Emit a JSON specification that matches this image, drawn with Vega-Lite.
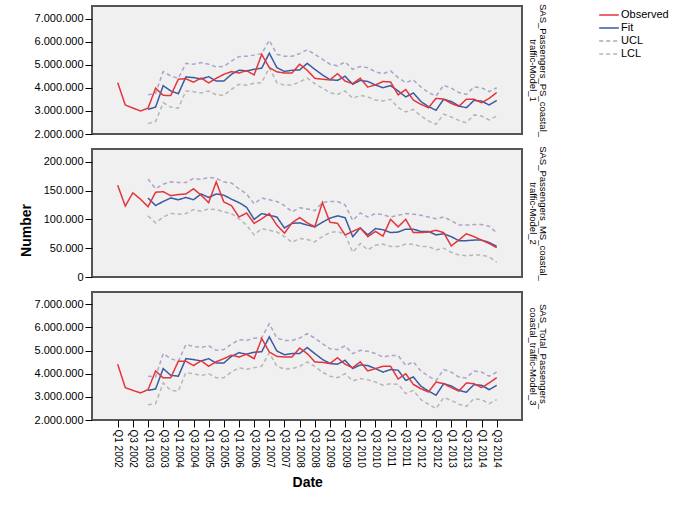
{
"$schema": "https://vega.github.io/schema/vega-lite/v6.json",
"padding": {"left": 18, "top": 2, "right": 0, "bottom": 0},
"bounds": "flush",
"spacing": 15,
"config": {
  "locale": {"number": {"decimal": ",", "thousands": ".", "grouping": [3], "currency": ["", ""]}},
  "font": "Liberation Sans",
  "view": {"fill": "#f0f0f0", "stroke": "#555555", "strokeWidth": 2},
  "axis": {"grid": false, "domain": false, "tickColor": "#000000", "labelColor": "#000000", "titleColor": "#000000", "labelFont": "Liberation Sans", "titleFont": "Liberation Sans"},
  "legend": {"orient": "none", "legendX": 509, "legendY": 1, "symbolType": "M-1.4,0H1.4", "symbolSize": 196, "symbolStrokeWidth": 1.5, "labelFontSize": 11, "labelColor": "#000000", "labelOffset": 4, "rowPadding": -1, "title": null}
},
"data": {"values": [
{"m":1,"d":"Q1 2002","Observed":4230000},
{"m":1,"d":"Q2 2002","Observed":3260000},
{"m":1,"d":"Q3 2002","Observed":3130000},
{"m":1,"d":"Q4 2002","Observed":3000000},
{"m":1,"d":"Q1 2003","Observed":3120000,"Fit":3070000,"UCL":3700000,"LCL":2450000},
{"m":1,"d":"Q2 2003","Observed":3990000,"Fit":3170000,"UCL":3770000,"LCL":2540000},
{"m":1,"d":"Q3 2003","Observed":3680000,"Fit":4100000,"UCL":4710000,"LCL":3360000},
{"m":1,"d":"Q4 2003","Observed":3670000,"Fit":3870000,"UCL":4520000,"LCL":3170000},
{"m":1,"d":"Q1 2004","Observed":4380000,"Fit":3750000,"UCL":4420000,"LCL":3120000},
{"m":1,"d":"Q2 2004","Observed":4400000,"Fit":4480000,"UCL":5070000,"LCL":3870000},
{"m":1,"d":"Q3 2004","Observed":4250000,"Fit":4450000,"UCL":5030000,"LCL":3840000},
{"m":1,"d":"Q4 2004","Observed":4430000,"Fit":4390000,"UCL":5100000,"LCL":3780000},
{"m":1,"d":"Q1 2005","Observed":4220000,"Fit":4490000,"UCL":5030000,"LCL":3870000},
{"m":1,"d":"Q2 2005","Observed":4420000,"Fit":4300000,"UCL":4910000,"LCL":3700000},
{"m":1,"d":"Q3 2005","Observed":4590000,"Fit":4300000,"UCL":4930000,"LCL":3680000},
{"m":1,"d":"Q4 2005","Observed":4710000,"Fit":4590000,"UCL":5170000,"LCL":3940000},
{"m":1,"d":"Q1 2006","Observed":4650000,"Fit":4770000,"UCL":5360000,"LCL":4160000},
{"m":1,"d":"Q2 2006","Observed":4750000,"Fit":4740000,"UCL":5380000,"LCL":4120000},
{"m":1,"d":"Q3 2006","Observed":4570000,"Fit":4810000,"UCL":5430000,"LCL":4200000},
{"m":1,"d":"Q4 2006","Observed":5460000,"Fit":4860000,"UCL":5490000,"LCL":4230000},
{"m":1,"d":"Q1 2007","Observed":4880000,"Fit":5510000,"UCL":6070000,"LCL":4880000},
{"m":1,"d":"Q2 2007","Observed":4700000,"Fit":4880000,"UCL":5460000,"LCL":4230000},
{"m":1,"d":"Q3 2007","Observed":4650000,"Fit":4720000,"UCL":5380000,"LCL":4120000},
{"m":1,"d":"Q4 2007","Observed":4650000,"Fit":4770000,"UCL":5380000,"LCL":4130000},
{"m":1,"d":"Q1 2008","Observed":5030000,"Fit":4780000,"UCL":5490000,"LCL":4260000},
{"m":1,"d":"Q2 2008","Observed":4770000,"Fit":5070000,"UCL":5660000,"LCL":4430000},
{"m":1,"d":"Q3 2008","Observed":4420000,"Fit":4810000,"UCL":5460000,"LCL":4190000},
{"m":1,"d":"Q4 2008","Observed":4380000,"Fit":4570000,"UCL":5250000,"LCL":3990000},
{"m":1,"d":"Q1 2009","Observed":4350000,"Fit":4360000,"UCL":5030000,"LCL":3800000},
{"m":1,"d":"Q2 2009","Observed":4620000,"Fit":4330000,"UCL":4960000,"LCL":3720000},
{"m":1,"d":"Q3 2009","Observed":4300000,"Fit":4510000,"UCL":5130000,"LCL":3870000},
{"m":1,"d":"Q4 2009","Observed":4190000,"Fit":4160000,"UCL":4810000,"LCL":3550000},
{"m":1,"d":"Q1 2010","Observed":4420000,"Fit":4330000,"UCL":4930000,"LCL":3680000},
{"m":1,"d":"Q2 2010","Observed":4040000,"Fit":4280000,"UCL":4880000,"LCL":3610000},
{"m":1,"d":"Q3 2010","Observed":4130000,"Fit":4130000,"UCL":4700000,"LCL":3480000},
{"m":1,"d":"Q4 2010","Observed":4280000,"Fit":4010000,"UCL":4620000,"LCL":3430000},
{"m":1,"d":"Q1 2011","Observed":4260000,"Fit":4100000,"UCL":4740000,"LCL":3510000},
{"m":1,"d":"Q2 2011","Observed":3700000,"Fit":3870000,"UCL":4450000,"LCL":3140000},
{"m":1,"d":"Q3 2011","Observed":3930000,"Fit":3610000,"UCL":4230000,"LCL":2960000},
{"m":1,"d":"Q4 2011","Observed":3480000,"Fit":3780000,"UCL":4350000,"LCL":3070000},
{"m":1,"d":"Q1 2012","Observed":3290000,"Fit":3410000,"UCL":4040000,"LCL":2780000},
{"m":1,"d":"Q2 2012","Observed":3140000,"Fit":3190000,"UCL":3800000,"LCL":2570000},
{"m":1,"d":"Q3 2012","Observed":3550000,"Fit":3030000,"UCL":3650000,"LCL":2420000},
{"m":1,"d":"Q4 2012","Observed":3510000,"Fit":3510000,"UCL":4120000,"LCL":2860000},
{"m":1,"d":"Q1 2013","Observed":3330000,"Fit":3410000,"UCL":3990000,"LCL":2740000},
{"m":1,"d":"Q2 2013","Observed":3200000,"Fit":3220000,"UCL":3800000,"LCL":2590000},
{"m":1,"d":"Q3 2013","Observed":3510000,"Fit":3140000,"UCL":3720000,"LCL":2490000},
{"m":1,"d":"Q4 2013","Observed":3510000,"Fit":3460000,"UCL":4040000,"LCL":2830000},
{"m":1,"d":"Q1 2014","Observed":3360000,"Fit":3430000,"UCL":4010000,"LCL":2780000},
{"m":1,"d":"Q2 2014","Observed":3550000,"Fit":3260000,"UCL":3840000,"LCL":2610000},
{"m":1,"d":"Q3 2014","Observed":3800000,"Fit":3460000,"UCL":4010000,"LCL":2780000},
{"m":2,"d":"Q1 2002","Observed":159000},
{"m":2,"d":"Q2 2002","Observed":123000},
{"m":2,"d":"Q3 2002","Observed":146000},
{"m":2,"d":"Q4 2002","Observed":135000},
{"m":2,"d":"Q1 2003","Observed":122000,"Fit":137000,"UCL":170000,"LCL":106000},
{"m":2,"d":"Q2 2003","Observed":147000,"Fit":124000,"UCL":153000,"LCL":94000},
{"m":2,"d":"Q3 2003","Observed":148000,"Fit":131000,"UCL":161000,"LCL":104000},
{"m":2,"d":"Q4 2003","Observed":141000,"Fit":137000,"UCL":165000,"LCL":110000},
{"m":2,"d":"Q1 2004","Observed":143000,"Fit":134000,"UCL":164000,"LCL":109000},
{"m":2,"d":"Q2 2004","Observed":144000,"Fit":138000,"UCL":164000,"LCL":110000},
{"m":2,"d":"Q3 2004","Observed":153000,"Fit":134000,"UCL":171000,"LCL":117000},
{"m":2,"d":"Q4 2004","Observed":142000,"Fit":144000,"UCL":169000,"LCL":114000},
{"m":2,"d":"Q1 2005","Observed":129000,"Fit":138000,"UCL":173000,"LCL":118000},
{"m":2,"d":"Q2 2005","Observed":165000,"Fit":144000,"UCL":171000,"LCL":117000},
{"m":2,"d":"Q3 2005","Observed":130000,"Fit":142000,"UCL":165000,"LCL":113000},
{"m":2,"d":"Q4 2005","Observed":124000,"Fit":135000,"UCL":163000,"LCL":110000},
{"m":2,"d":"Q1 2006","Observed":104000,"Fit":129000,"UCL":153000,"LCL":101000},
{"m":2,"d":"Q2 2006","Observed":111000,"Fit":121000,"UCL":144000,"LCL":90000},
{"m":2,"d":"Q3 2006","Observed":93000,"Fit":100000,"UCL":127000,"LCL":73000},
{"m":2,"d":"Q4 2006","Observed":101000,"Fit":110000,"UCL":137000,"LCL":84000},
{"m":2,"d":"Q1 2007","Observed":110000,"Fit":107000,"UCL":134000,"LCL":81000},
{"m":2,"d":"Q2 2007","Observed":90000,"Fit":104000,"UCL":131000,"LCL":78000},
{"m":2,"d":"Q3 2007","Observed":76000,"Fit":85000,"UCL":124000,"LCL":70000},
{"m":2,"d":"Q4 2007","Observed":94000,"Fit":93000,"UCL":113000,"LCL":60000},
{"m":2,"d":"Q1 2008","Observed":103000,"Fit":94000,"UCL":120000,"LCL":67000},
{"m":2,"d":"Q2 2008","Observed":94000,"Fit":90000,"UCL":118000,"LCL":65000},
{"m":2,"d":"Q3 2008","Observed":87000,"Fit":87000,"UCL":115000,"LCL":61000},
{"m":2,"d":"Q4 2008","Observed":129000,"Fit":95000,"UCL":129000,"LCL":70000},
{"m":2,"d":"Q1 2009","Observed":95000,"Fit":102000,"UCL":131000,"LCL":77000},
{"m":2,"d":"Q2 2009","Observed":93000,"Fit":106000,"UCL":131000,"LCL":79000},
{"m":2,"d":"Q3 2009","Observed":73000,"Fit":103000,"UCL":125000,"LCL":74000},
{"m":2,"d":"Q4 2009","Observed":79000,"Fit":70000,"UCL":98000,"LCL":43000},
{"m":2,"d":"Q1 2010","Observed":85000,"Fit":85000,"UCL":111000,"LCL":58000},
{"m":2,"d":"Q2 2010","Observed":70000,"Fit":73000,"UCL":104000,"LCL":47000},
{"m":2,"d":"Q3 2010","Observed":79000,"Fit":84000,"UCL":110000,"LCL":55000},
{"m":2,"d":"Q4 2010","Observed":71000,"Fit":82000,"UCL":108000,"LCL":57000},
{"m":2,"d":"Q1 2011","Observed":100000,"Fit":77000,"UCL":104000,"LCL":53000},
{"m":2,"d":"Q2 2011","Observed":87000,"Fit":78000,"UCL":107000,"LCL":53000},
{"m":2,"d":"Q3 2011","Observed":100000,"Fit":83000,"UCL":110000,"LCL":57000},
{"m":2,"d":"Q4 2011","Observed":77000,"Fit":83000,"UCL":109000,"LCL":57000},
{"m":2,"d":"Q1 2012","Observed":77000,"Fit":79000,"UCL":107000,"LCL":53000},
{"m":2,"d":"Q2 2012","Observed":78000,"Fit":79000,"UCL":104000,"LCL":53000},
{"m":2,"d":"Q3 2012","Observed":81000,"Fit":73000,"UCL":101000,"LCL":47000},
{"m":2,"d":"Q4 2012","Observed":77000,"Fit":75000,"UCL":104000,"LCL":50000},
{"m":2,"d":"Q1 2013","Observed":54000,"Fit":70000,"UCL":98000,"LCL":43000},
{"m":2,"d":"Q2 2013","Observed":64000,"Fit":63000,"UCL":90000,"LCL":38000},
{"m":2,"d":"Q3 2013","Observed":75000,"Fit":63000,"UCL":90000,"LCL":37000},
{"m":2,"d":"Q4 2013","Observed":70000,"Fit":64000,"UCL":91000,"LCL":38000},
{"m":2,"d":"Q1 2014","Observed":64000,"Fit":64000,"UCL":91000,"LCL":38000},
{"m":2,"d":"Q2 2014","Observed":58000,"Fit":60000,"UCL":88000,"LCL":35000},
{"m":2,"d":"Q3 2014","Observed":51000,"Fit":53000,"UCL":77000,"LCL":26000},
{"m":3,"d":"Q1 2002","Observed":4410000},
{"m":3,"d":"Q2 2002","Observed":3400000},
{"m":3,"d":"Q3 2002","Observed":3280000},
{"m":3,"d":"Q4 2002","Observed":3170000},
{"m":3,"d":"Q1 2003","Observed":3310000,"Fit":3280000,"UCL":3890000,"LCL":2660000},
{"m":3,"d":"Q2 2003","Observed":4120000,"Fit":3340000,"UCL":3860000,"LCL":2710000},
{"m":3,"d":"Q3 2003","Observed":3820000,"Fit":4220000,"UCL":4870000,"LCL":3600000},
{"m":3,"d":"Q4 2003","Observed":3830000,"Fit":3930000,"UCL":4650000,"LCL":3280000},
{"m":3,"d":"Q1 2004","Observed":4540000,"Fit":3890000,"UCL":4540000,"LCL":3250000},
{"m":3,"d":"Q2 2004","Observed":4540000,"Fit":4650000,"UCL":5260000,"LCL":4050000},
{"m":3,"d":"Q3 2004","Observed":4350000,"Fit":4610000,"UCL":5180000,"LCL":4000000},
{"m":3,"d":"Q4 2004","Observed":4560000,"Fit":4550000,"UCL":5130000,"LCL":3920000},
{"m":3,"d":"Q1 2005","Observed":4320000,"Fit":4650000,"UCL":5210000,"LCL":4000000},
{"m":3,"d":"Q2 2005","Observed":4520000,"Fit":4460000,"UCL":5010000,"LCL":3830000},
{"m":3,"d":"Q3 2005","Observed":4650000,"Fit":4460000,"UCL":5040000,"LCL":3830000},
{"m":3,"d":"Q4 2005","Observed":4800000,"Fit":4750000,"UCL":5270000,"LCL":4070000},
{"m":3,"d":"Q1 2006","Observed":4720000,"Fit":4910000,"UCL":5470000,"LCL":4260000},
{"m":3,"d":"Q2 2006","Observed":4840000,"Fit":4840000,"UCL":5440000,"LCL":4190000},
{"m":3,"d":"Q3 2006","Observed":4650000,"Fit":4930000,"UCL":5530000,"LCL":4260000},
{"m":3,"d":"Q4 2006","Observed":5520000,"Fit":4950000,"UCL":5560000,"LCL":4320000},
{"m":3,"d":"Q1 2007","Observed":4940000,"Fit":5590000,"UCL":6160000,"LCL":4900000},
{"m":3,"d":"Q2 2007","Observed":4750000,"Fit":4980000,"UCL":5540000,"LCL":4320000},
{"m":3,"d":"Q3 2007","Observed":4720000,"Fit":4820000,"UCL":5440000,"LCL":4200000},
{"m":3,"d":"Q4 2007","Observed":4720000,"Fit":4870000,"UCL":5440000,"LCL":4220000},
{"m":3,"d":"Q1 2008","Observed":5110000,"Fit":4870000,"UCL":5540000,"LCL":4320000},
{"m":3,"d":"Q2 2008","Observed":4870000,"Fit":5130000,"UCL":5730000,"LCL":4510000},
{"m":3,"d":"Q3 2008","Observed":4510000,"Fit":4870000,"UCL":5540000,"LCL":4320000},
{"m":3,"d":"Q4 2008","Observed":4490000,"Fit":4620000,"UCL":5300000,"LCL":4070000},
{"m":3,"d":"Q1 2009","Observed":4440000,"Fit":4440000,"UCL":5080000,"LCL":3890000},
{"m":3,"d":"Q2 2009","Observed":4690000,"Fit":4410000,"UCL":5040000,"LCL":3830000},
{"m":3,"d":"Q3 2009","Observed":4410000,"Fit":4580000,"UCL":5200000,"LCL":4000000},
{"m":3,"d":"Q4 2009","Observed":4260000,"Fit":4220000,"UCL":4870000,"LCL":3690000},
{"m":3,"d":"Q1 2010","Observed":4510000,"Fit":4380000,"UCL":5010000,"LCL":3790000},
{"m":3,"d":"Q2 2010","Observed":4120000,"Fit":4350000,"UCL":4970000,"LCL":3740000},
{"m":3,"d":"Q3 2010","Observed":4220000,"Fit":4220000,"UCL":4870000,"LCL":3640000},
{"m":3,"d":"Q4 2010","Observed":4320000,"Fit":4070000,"UCL":4720000,"LCL":3500000},
{"m":3,"d":"Q1 2011","Observed":4320000,"Fit":4180000,"UCL":4790000,"LCL":3570000},
{"m":3,"d":"Q2 2011","Observed":3770000,"Fit":4150000,"UCL":4780000,"LCL":3540000},
{"m":3,"d":"Q3 2011","Observed":4000000,"Fit":3710000,"UCL":4360000,"LCL":3140000},
{"m":3,"d":"Q4 2011","Observed":3540000,"Fit":3860000,"UCL":4510000,"LCL":3280000},
{"m":3,"d":"Q1 2012","Observed":3350000,"Fit":3460000,"UCL":4120000,"LCL":2880000},
{"m":3,"d":"Q2 2012","Observed":3210000,"Fit":3250000,"UCL":3890000,"LCL":2680000},
{"m":3,"d":"Q3 2012","Observed":3640000,"Fit":3070000,"UCL":3710000,"LCL":2490000},
{"m":3,"d":"Q4 2012","Observed":3570000,"Fit":3570000,"UCL":4180000,"LCL":2970000},
{"m":3,"d":"Q1 2013","Observed":3400000,"Fit":3470000,"UCL":4070000,"LCL":2850000},
{"m":3,"d":"Q2 2013","Observed":3250000,"Fit":3280000,"UCL":3860000,"LCL":2680000},
{"m":3,"d":"Q3 2013","Observed":3600000,"Fit":3200000,"UCL":3820000,"LCL":2590000},
{"m":3,"d":"Q4 2013","Observed":3570000,"Fit":3530000,"UCL":4120000,"LCL":2920000},
{"m":3,"d":"Q1 2014","Observed":3400000,"Fit":3500000,"UCL":4070000,"LCL":2880000},
{"m":3,"d":"Q2 2014","Observed":3600000,"Fit":3310000,"UCL":3890000,"LCL":2710000},
{"m":3,"d":"Q3 2014","Observed":3830000,"Fit":3500000,"UCL":4070000,"LCL":2880000}
]},
"transform": [{"fold": ["Observed", "Fit", "UCL", "LCL"], "as": ["series", "value"]}, {"filter": "isValid(datum.value)"}],
"vconcat": [
{
  "width": 430, "height": 128,
  "transform": [{"filter": "datum.m == 1"}],
  "encoding": {
    "x": {"field": "d", "type": "ordinal", "scale": {"type": "point", "padding": 0, "range": [25.7, 404.7], "domain": ["Q1 2002","Q2 2002","Q3 2002","Q4 2002","Q1 2003","Q2 2003","Q3 2003","Q4 2003","Q1 2004","Q2 2004","Q3 2004","Q4 2004","Q1 2005","Q2 2005","Q3 2005","Q4 2005","Q1 2006","Q2 2006","Q3 2006","Q4 2006","Q1 2007","Q2 2007","Q3 2007","Q4 2007","Q1 2008","Q2 2008","Q3 2008","Q4 2008","Q1 2009","Q2 2009","Q3 2009","Q4 2009","Q1 2010","Q2 2010","Q3 2010","Q4 2010","Q1 2011","Q2 2011","Q3 2011","Q4 2011","Q1 2012","Q2 2012","Q3 2012","Q4 2012","Q1 2013","Q2 2013","Q3 2013","Q4 2013","Q1 2014","Q2 2014","Q3 2014"]}, "axis": null},
    "color": {"field": "series", "type": "nominal", "scale": {"domain": ["Observed", "Fit", "UCL", "LCL"], "range": ["#e4343c", "#3b5aa3", "#aca4c6", "#b6b6b8"]}, "legend": {"title": null}},
    "strokeDash": {"field": "series", "type": "nominal", "scale": {"domain": ["Observed", "Fit", "UCL", "LCL"], "range": [[1, 0], [1, 0], [4, 3], [4, 3]]}, "legend": {"title": null}}
  },
  "layer": [
    {"transform": [{"filter": "datum.series != 'Observed'"}], "mark": {"type": "line", "strokeWidth": 1.5},
     "encoding": {"y": {"field": "value", "type": "quantitative", "scale": {"domain": [2000000, 7560000], "nice": false, "zero": false},
       "axis": {"orient": "left", "values": [2000000, 3000000, 4000000, 5000000, 6000000, 7000000], "format": ",d", "title": null, "labelFontSize": 11, "tickSize": 7, "labelPadding": 2}}}},
    {"transform": [{"filter": "datum.series == 'Observed'"}], "mark": {"type": "line", "strokeWidth": 1.5},
     "encoding": {"y": {"field": "value", "type": "quantitative",
       "axis": {"orient": "right", "labels": false, "ticks": false, "tickSize": 0, "title": ["SAS_Passengers_PS_coastal_", "traffic-Model_1"], "titleFontSize": 9.5, "titleFontWeight": "normal", "titleLineHeight": 10.5, "titlePadding": 5}}}}
  ],
  "resolve": {"axis": {"y": "independent"}}
},
{
  "width": 430, "height": 128,
  "transform": [{"filter": "datum.m == 2"}],
  "encoding": {
    "x": {"field": "d", "type": "ordinal", "scale": {"type": "point", "padding": 0, "range": [25.7, 404.7], "domain": ["Q1 2002","Q2 2002","Q3 2002","Q4 2002","Q1 2003","Q2 2003","Q3 2003","Q4 2003","Q1 2004","Q2 2004","Q3 2004","Q4 2004","Q1 2005","Q2 2005","Q3 2005","Q4 2005","Q1 2006","Q2 2006","Q3 2006","Q4 2006","Q1 2007","Q2 2007","Q3 2007","Q4 2007","Q1 2008","Q2 2008","Q3 2008","Q4 2008","Q1 2009","Q2 2009","Q3 2009","Q4 2009","Q1 2010","Q2 2010","Q3 2010","Q4 2010","Q1 2011","Q2 2011","Q3 2011","Q4 2011","Q1 2012","Q2 2012","Q3 2012","Q4 2012","Q1 2013","Q2 2013","Q3 2013","Q4 2013","Q1 2014","Q2 2014","Q3 2014"]}, "axis": null},
    "color": {"field": "series", "type": "nominal", "scale": {"domain": ["Observed", "Fit", "UCL", "LCL"], "range": ["#e4343c", "#3b5aa3", "#aca4c6", "#b6b6b8"]}, "legend": {"title": null}},
    "strokeDash": {"field": "series", "type": "nominal", "scale": {"domain": ["Observed", "Fit", "UCL", "LCL"], "range": [[1, 0], [1, 0], [4, 3], [4, 3]]}, "legend": {"title": null}}
  },
  "layer": [
    {"transform": [{"filter": "datum.series != 'Observed'"}], "mark": {"type": "line", "strokeWidth": 1.5},
     "encoding": {"y": {"field": "value", "type": "quantitative", "scale": {"domain": [0, 222000], "nice": false, "zero": false},
       "axis": {"orient": "left", "values": [0, 50000, 100000, 150000, 200000], "format": ",d", "title": "Number", "titleFontSize": 14, "titleFontWeight": "bold", "titleX": -59, "titleY": 81, "labelFontSize": 11, "tickSize": 7, "labelPadding": 2}}}},
    {"transform": [{"filter": "datum.series == 'Observed'"}], "mark": {"type": "line", "strokeWidth": 1.5},
     "encoding": {"y": {"field": "value", "type": "quantitative",
       "axis": {"orient": "right", "labels": false, "ticks": false, "tickSize": 0, "title": ["SAS_Passengers_MS_coastal_", "traffic-Model_2"], "titleFontSize": 9.5, "titleFontWeight": "normal", "titleLineHeight": 10.5, "titlePadding": 5}}}}
  ],
  "resolve": {"axis": {"y": "independent"}}
},
{
  "width": 430, "height": 128,
  "transform": [{"filter": "datum.m == 3"}],
  "encoding": {
    "x": {"field": "d", "type": "ordinal", "scale": {"type": "point", "padding": 0, "range": [25.7, 404.7], "domain": ["Q1 2002","Q2 2002","Q3 2002","Q4 2002","Q1 2003","Q2 2003","Q3 2003","Q4 2003","Q1 2004","Q2 2004","Q3 2004","Q4 2004","Q1 2005","Q2 2005","Q3 2005","Q4 2005","Q1 2006","Q2 2006","Q3 2006","Q4 2006","Q1 2007","Q2 2007","Q3 2007","Q4 2007","Q1 2008","Q2 2008","Q3 2008","Q4 2008","Q1 2009","Q2 2009","Q3 2009","Q4 2009","Q1 2010","Q2 2010","Q3 2010","Q4 2010","Q1 2011","Q2 2011","Q3 2011","Q4 2011","Q1 2012","Q2 2012","Q3 2012","Q4 2012","Q1 2013","Q2 2013","Q3 2013","Q4 2013","Q1 2014","Q2 2014","Q3 2014"]},
      "axis": {"values": ["Q1 2002","Q3 2002","Q1 2003","Q3 2003","Q1 2004","Q3 2004","Q1 2005","Q3 2005","Q1 2006","Q3 2006","Q1 2007","Q3 2007","Q1 2008","Q3 2008","Q1 2009","Q3 2009","Q1 2010","Q3 2010","Q1 2011","Q3 2011","Q1 2012","Q3 2012","Q1 2013","Q3 2013","Q1 2014","Q3 2014"], "labelAngle": 90, "labelAlign": "left", "labelBaseline": "middle", "labelFontSize": 10, "tickSize": 7, "labelPadding": 2, "title": "Date", "titleFontSize": 14, "titleFontWeight": "bold", "titlePadding": 8}},
    "color": {"field": "series", "type": "nominal", "scale": {"domain": ["Observed", "Fit", "UCL", "LCL"], "range": ["#e4343c", "#3b5aa3", "#aca4c6", "#b6b6b8"]}, "legend": {"title": null}},
    "strokeDash": {"field": "series", "type": "nominal", "scale": {"domain": ["Observed", "Fit", "UCL", "LCL"], "range": [[1, 0], [1, 0], [4, 3], [4, 3]]}, "legend": {"title": null}}
  },
  "layer": [
    {"transform": [{"filter": "datum.series != 'Observed'"}], "mark": {"type": "line", "strokeWidth": 1.5},
     "encoding": {"y": {"field": "value", "type": "quantitative", "scale": {"domain": [2000000, 7530000], "nice": false, "zero": false},
       "axis": {"orient": "left", "values": [2000000, 3000000, 4000000, 5000000, 6000000, 7000000], "format": ",d", "title": null, "labelFontSize": 11, "tickSize": 7, "labelPadding": 2}}}},
    {"transform": [{"filter": "datum.series == 'Observed'"}], "mark": {"type": "line", "strokeWidth": 1.5},
     "encoding": {"y": {"field": "value", "type": "quantitative",
       "axis": {"orient": "right", "labels": false, "ticks": false, "tickSize": 0, "title": ["SAS_Total_Passengers_", "coastal_traffic-Model_3"], "titleFontSize": 9.5, "titleFontWeight": "normal", "titleLineHeight": 10.5, "titlePadding": 5}}}}
  ],
  "resolve": {"axis": {"y": "independent"}}
}
]
}
